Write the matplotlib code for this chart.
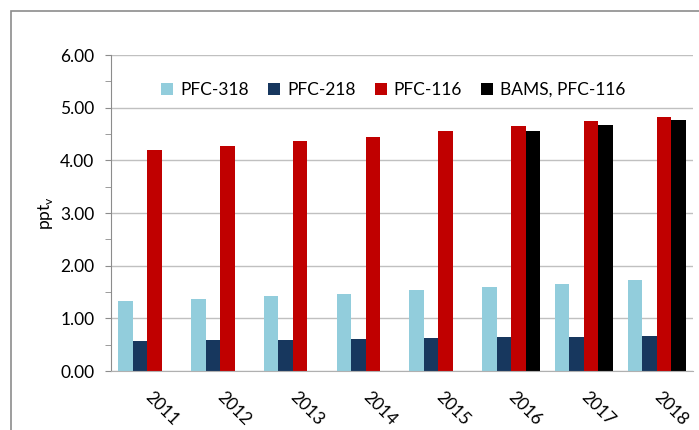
import numpy as np
import matplotlib
matplotlib.use("Agg")
import matplotlib.pyplot as plt
from matplotlib.patches import Rectangle

years = ["2011", "2012", "2013", "2014", "2015", "2016", "2017", "2018"]
pfc318 = [1.32, 1.37, 1.43, 1.47, 1.53, 1.59, 1.66, 1.73]
pfc218 = [0.57, 0.58, 0.59, 0.60, 0.62, 0.64, 0.65, 0.67]
pfc116 = [4.20, 4.27, 4.37, 4.44, 4.55, 4.65, 4.74, 4.82]
bams116 = [np.nan, np.nan, np.nan, np.nan, np.nan, 4.56, 4.67, 4.77]

series = [("PFC-318", pfc318, "#92CDDC"),
          ("PFC-218", pfc218, "#17375E"),
          ("PFC-116", pfc116, "#C00000"),
          ("BAMS, PFC-116", bams116, "#000000")]

plt.rcParams['font.family'] = ['Lato', 'DejaVu Sans']

fig = plt.figure(figsize=(6.99, 4.30), dpi=100)
# outer chart frame
fig.patches.append(Rectangle((11 / 699, -0.1), 1.2, (430 - 11) / 430 + 0.1,
                             transform=fig.transFigure, fill=False,
                             edgecolor="#8c8c8c", linewidth=1.2))

ax = fig.add_axes([111 / 699, 59 / 430, 582 / 699, 316 / 430])

x = np.arange(len(years))
w = 0.2
for k, (name, vals, col) in enumerate(series):
    ax.bar(x + (k - 1.5) * w, vals, w, color=col, label=name)

ax.set_xlim(-0.5, len(years) - 0.5)
ax.set_ylim(0, 6)
ax.set_yticks(np.arange(0, 7, 1))
ax.set_yticks(np.arange(0.5, 6, 1), minor=True)
ax.set_yticklabels(["%.2f" % v for v in np.arange(0, 7, 1)], fontsize=12.5)
ax.yaxis.grid(True, color="#c0c0c0", linewidth=1)
ax.set_axisbelow(True)

ax.set_xticks(x)
ax.set_xticklabels(years, rotation=-45, ha="left", va="center",
                   rotation_mode="anchor", fontsize=12.5)
ax.tick_params(axis="x", length=0, pad=17)
ax.tick_params(axis="y", which="both", length=4, color="#8c8c8c",
               direction="out", pad=8)

for s in ["top", "right"]:
    ax.spines[s].set_visible(False)
ax.spines["left"].set_color("#8c8c8c")
ax.spines["bottom"].set_color("#b0b0b0")

ax.set_ylabel("ppt$_\\mathregular{v}$", fontsize=12.5, labelpad=4)

ax.legend(loc="upper center", bbox_to_anchor=(0.485, 0.965), ncol=4, frameon=False,
          fontsize=12.5, handlelength=0.7, handleheight=0.7, handletextpad=0.4,
          columnspacing=1.1)

fig.savefig("out.png", dpi=100)
